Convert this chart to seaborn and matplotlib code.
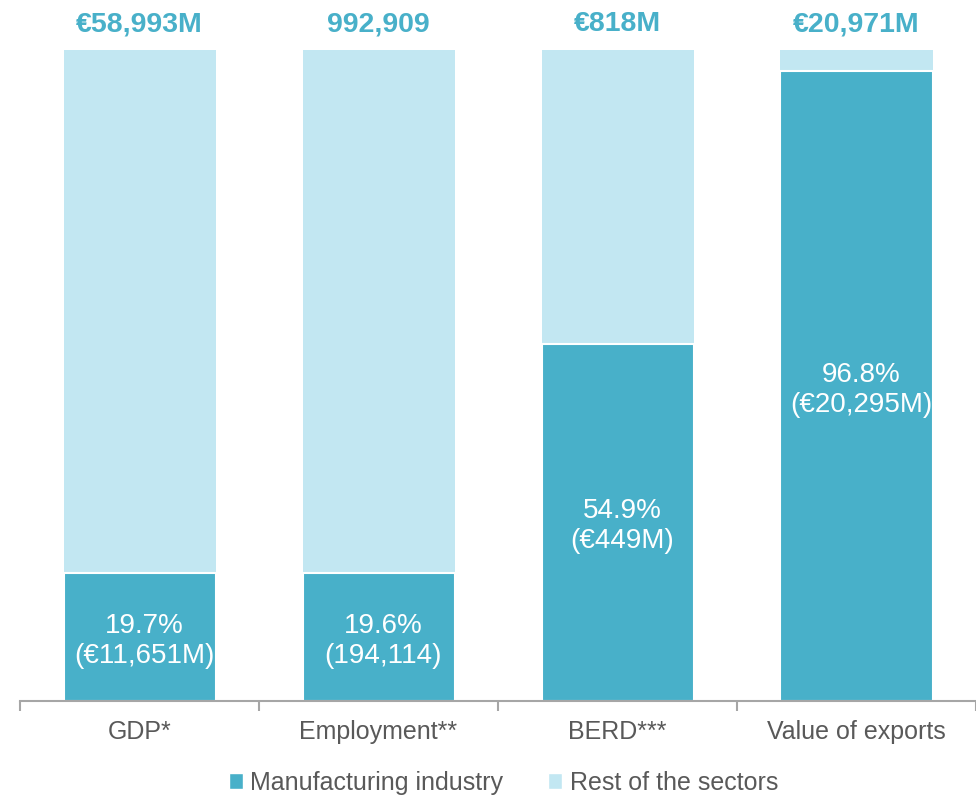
import matplotlib
matplotlib.use("Agg")
import matplotlib.pyplot as plt
import seaborn as sns
import pandas as pd
from matplotlib.patches import Patch

categories = ["GDP*", "Employment**", "BERD***", "Value of exports"]
totals_text = ["€58,993M", "992,909", "€818M", "€20,971M"]
manuf_share = [19.7, 19.6, 54.9, 96.8]
manuf_text = ["(€11,651M)", "(194,114)", "(€449M)", "(€20,295M)"]

dark = "#48B0C9"
light = "#C2E7F2"
grey = "#595959"

sns.set_theme(style="white")
plt.rcParams["font.family"] = ["Liberation Sans", "DejaVu Sans"]

df = pd.DataFrame({"cat": categories, "total": [100] * 4, "manuf": manuf_share})

fig = plt.figure(figsize=(9.76, 7.98), dpi=100)
ax = fig.add_axes([0.0205, 0.1216, 0.9795, 0.937 - 0.1216])

sns.barplot(data=df, x="cat", y="total", color=light, width=0.636,
            edgecolor="white", linewidth=0, ax=ax, saturation=1)
sns.barplot(data=df, x="cat", y="manuf", color=dark, width=0.636,
            edgecolor="white", linewidth=1.5, ax=ax, saturation=1)

ax.set_ylim(0, 100)
ax.set_xlim(-0.5, 3.5)
ax.set_xlabel("")
ax.set_ylabel("")
ax.set_yticks([])
for s in ["top", "left", "right"]:
    ax.spines[s].set_visible(False)
ax.spines["bottom"].set_color("#A6A6A6")
ax.spines["bottom"].set_linewidth(1.5)

ax.set_xticks(range(len(categories)))
ax.set_xticklabels(categories, fontsize=18, color=grey)
ax.tick_params(axis="x", which="major", length=0, pad=14)
ax.set_xticks([i - 0.5 for i in range(len(categories) + 1)], minor=True)
ax.tick_params(axis="x", which="minor", length=7, width=1.5, color="#A6A6A6",
               direction="out", bottom=True)

for i, (tt, p, mt) in enumerate(zip(totals_text, manuf_share, manuf_text)):
    ax.text(i, 102.9, tt, ha="center", va="baseline", fontsize=20.5,
            fontweight="bold", color=dark, clip_on=False)
    ax.text(i + 0.02, p / 2 - 0.6, f"{p:.1f}%\n{mt}", ha="center", va="center",
            fontsize=20, color="white", linespacing=1.2)

handles = [Patch(facecolor=dark, label="Manufacturing industry"),
           Patch(facecolor=light, label="Rest of the sectors")]
fig.legend(handles=handles, loc="center", bbox_to_anchor=(0.516, 0.019),
           ncol=2, frameon=False, fontsize=18, handlelength=0.55,
           handleheight=0.55, handletextpad=0.3, columnspacing=1.8,
           labelcolor=grey)

fig.savefig("out.png", dpi=100)
